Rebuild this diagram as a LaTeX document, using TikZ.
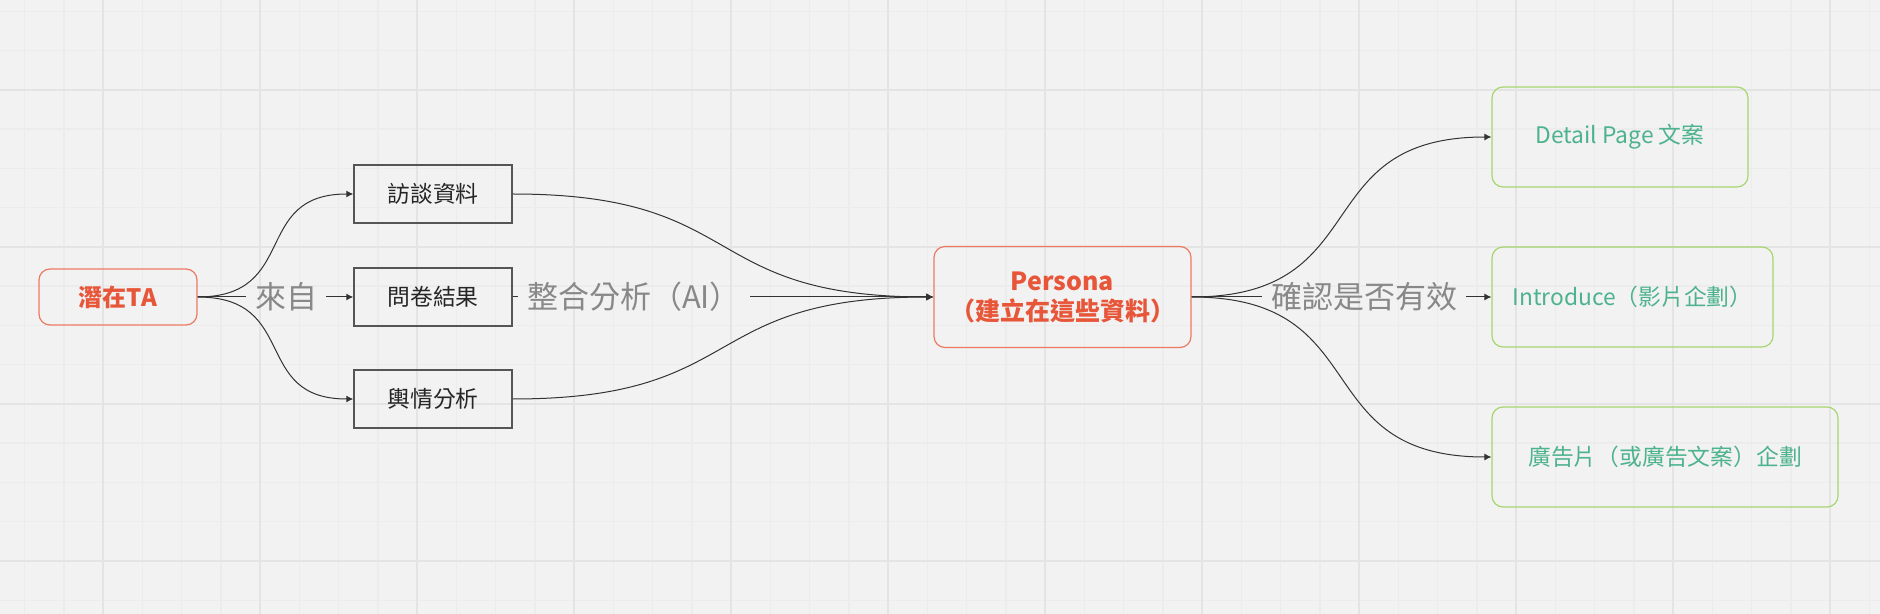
\documentclass[tikz,border=0pt]{standalone}
\usepackage{fontspec}
\setmainfont{Noto Sans CJK TC}
\usetikzlibrary{arrows.meta}

\definecolor{canvas}{RGB}{242,242,242}
\definecolor{gridminor}{RGB}{236,236,236}
\definecolor{gridmajor}{RGB}{228,228,228}
\definecolor{boxline}{RGB}{85,85,85}
\definecolor{redtext}{RGB}{232,86,58}
\definecolor{redline}{RGB}{236,122,98}
\definecolor{greentext}{RGB}{77,178,142}
\definecolor{greenline}{RGB}{166,214,110}
\definecolor{taggray}{RGB}{136,136,136}
\definecolor{linkgray}{RGB}{51,51,51}

\begin{document}
\begin{tikzpicture}[
        x=0.5pt, y=-0.5pt,
        plain/.style={
            rectangle,
            draw=boxline,
            line width=0.75pt,
            minimum width=79pt,
            minimum height=29pt,
            text=black!85,
            font=\fontsize{11.4}{14}\selectfont
        },
        source/.style={
            rectangle,
            rounded corners=5.5pt,
            draw=redline,
            line width=0.6pt,
            text=redtext,
            align=center
        },
        target/.style={
            rectangle,
            rounded corners=5.5pt,
            draw=greenline,
            line width=0.6pt,
            minimum height=50pt,
            text=greentext,
            font=\fontsize{11.4}{14}\selectfont
        },
        tag/.style={
            inner xsep=4.5pt,
            inner ysep=0pt,
            text=taggray,
            font=\fontsize{15.5}{18}\selectfont
        },
        link/.style={draw=linkgray, line width=0.5pt},
        arr/.style={link, -{Latex[length=3.5pt,width=3.5pt]}},
        curve/.style={arr, out=0, in=180, looseness=1.4}
    ]

        % canvas and grid
        \useasboundingbox (0,0) rectangle (1880,614);
        \fill[canvas] (0,0) rectangle (1880,614);
        \foreach \k in {0,...,47} {
            \draw[gridminor, line width=0.75pt] (24.5+39.25*\k,0) -- (24.5+39.25*\k,614);
        }
        \foreach \k in {0,...,15} {
            \draw[gridminor, line width=0.75pt] (0,11.5+39.25*\k) -- (1880,11.5+39.25*\k);
        }
        \foreach \k in {0,...,11} {
            \draw[gridmajor, line width=1pt] (103+157*\k,0) -- (103+157*\k,614);
        }
        \foreach \k in {0,...,3} {
            \draw[gridmajor, line width=1pt] (0,90+157*\k) -- (1880,90+157*\k);
        }

        % nodes
        \node[source, minimum width=79pt, minimum height=28pt,
            font=\bfseries\fontsize{12}{15}\selectfont] (ta) at (118,297) {潛在TA};

        \node[plain] (interview) at (433,194) {訪談資料};
        \node[plain] (survey) at (433,297) {問卷結果};
        \node[plain] (opinion) at (433,399) {輿情分析};

        \node[source, minimum width=128.5pt, minimum height=50.5pt,
            font=\bfseries\fontsize{12.5}{15}\selectfont] (persona) at (1062.5,297)
            {Persona\\（建立在這些資料）};

        \node[target, minimum width=128pt] (detail) at (1620,137) {Detail Page 文案};
        \node[target, minimum width=140.5pt] (intro) at (1632.5,297) {Introduce（影片企劃）};
        \node[target, minimum width=173pt] (ad) at (1665,457) {廣告片（或廣告文案）企劃};

        \node[tag] (from) at (286,297) {來自};
        \node[tag] (merge) at (634,297) {整合分析（AI）};
        \node[tag] (check) at (1364,297) {確認是否有效};

        % connectors
        \draw[curve] (ta.east) to (interview.west);
        \draw[link] (ta.east) -- (from.west);
        \draw[arr] (from.east) -- (survey.west);
        \draw[curve] (ta.east) to (opinion.west);

        \draw[curve] (interview.east) to (persona.west);
        \draw[link] (survey.east) -- (merge.west);
        \draw[arr] (merge.east) -- (persona.west);
        \draw[curve] (opinion.east) to (persona.west);

        \draw[curve] (persona.east) to (detail.west);
        \draw[link] (persona.east) -- (check.west);
        \draw[arr] (check.east) -- (intro.west);
        \draw[curve] (persona.east) to (ad.west);

    \end{tikzpicture}
\end{document}
